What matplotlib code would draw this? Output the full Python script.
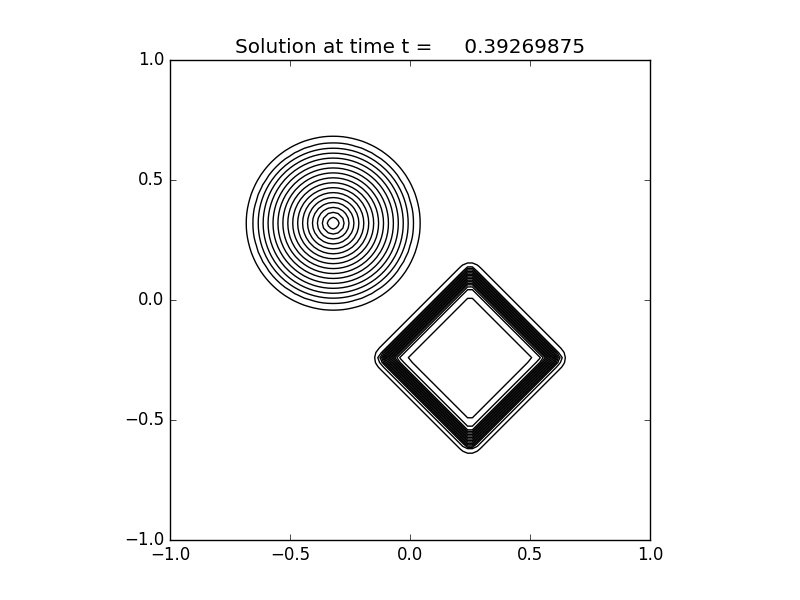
import numpy as np
import matplotlib
matplotlib.use('Agg')
from matplotlib import pyplot as plt

plt.style.use('classic')

t_sol = 0.39269875

# contour levels drawn
levels = [0.05, 0.10, 0.15, 0.20, 0.25, 0.30, 0.35, 0.40, 0.45,
          0.50, 0.55, 0.60, 0.65, 0.70, 0.75, 0.80, 0.85]

# cone: radial profile
cone_center = [-0.32, 0.32]
cone_r = [0.0, 0.333, 0.3625, 0.39]
cone_u = [0.91, 0.10, 0.05, 0.0]

# square (rotated 45 deg): profile against signed distance to its edge
square_center = [0.25, -0.242]
square_half = 0.242
square_d = [-0.14, -0.09, -0.028, 0.035, 0.075]
square_u = [0.92, 0.90, 0.80, 0.10, 0.0]

# grid
x = np.linspace(-1.0, 1.0, 101)
y = np.linspace(-1.0, 1.0, 101)
X, Y = np.meshgrid(x, y)

r = np.hypot(X - cone_center[0], Y - cone_center[1])
cone = np.interp(r, cone_r, cone_u)

dx = X - square_center[0]
dy = Y - square_center[1]
s = np.abs(dx + dy) / np.sqrt(2) - square_half
q = np.abs(dx - dy) / np.sqrt(2) - square_half
sdf = np.hypot(np.maximum(s, 0), np.maximum(q, 0)) + np.minimum(np.maximum(s, q), 0)
square = np.interp(sdf, square_d, square_u)

U = cone + square

fig = plt.figure(figsize=(8, 6))
ax = fig.add_subplot(111)
ax.contour(X, Y, U, levels=levels, colors='k', linewidths=1.0)
ax.set_aspect('equal')
ax.set_xlim(-1, 1)
ax.set_ylim(-1, 1)
ax.set_xticks([-1.0, -0.5, 0.0, 0.5, 1.0])
ax.set_yticks([-1.0, -0.5, 0.0, 0.5, 1.0])
ax.set_title('Solution at time t = %14.8f' % t_sol)

fig.savefig('out.png', dpi=100)
